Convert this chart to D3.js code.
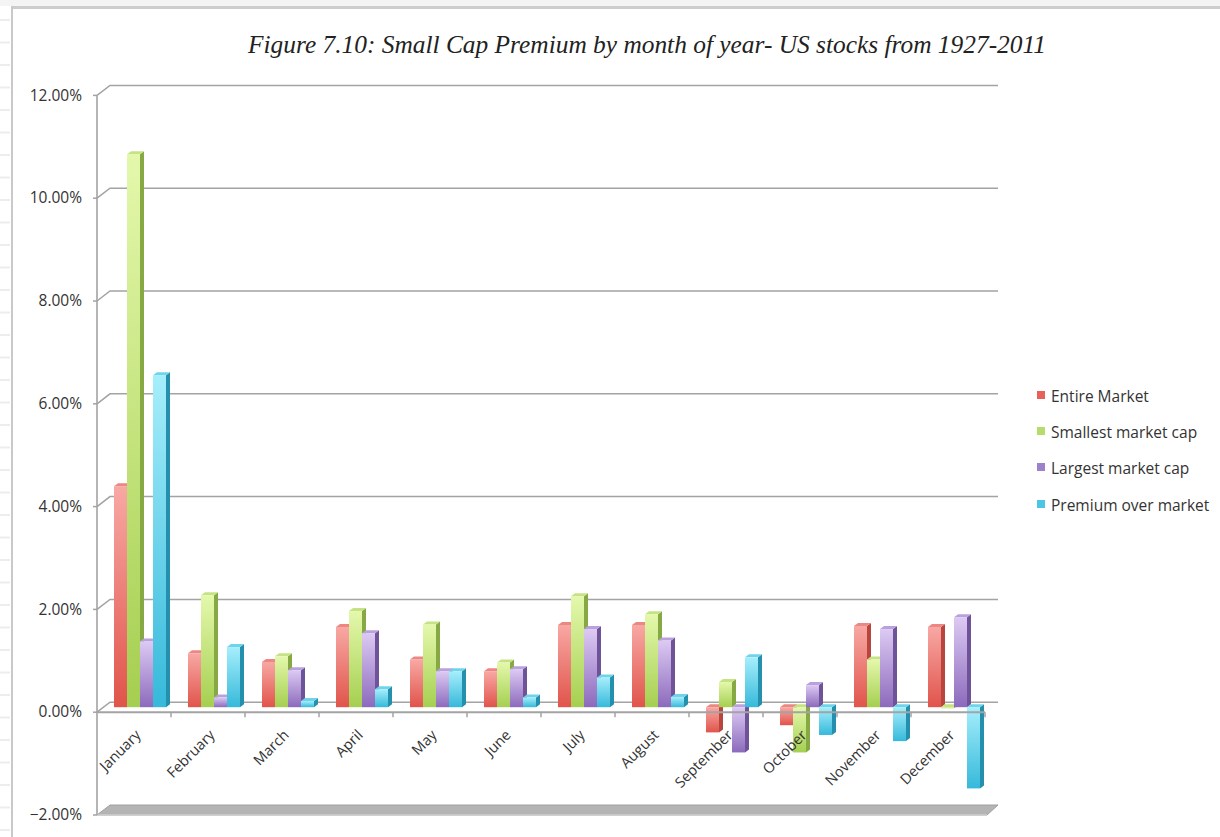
<!DOCTYPE html>
<html>
<head>
<meta charset="utf-8">
<script src="https://cdn.jsdelivr.net/npm/d3@7"></script>
<style>
  html, body { margin: 0; padding: 0; background: #fff; }
  svg { display: block; }
</style>
</head>
<body>
<svg id="chart" width="1220" height="837"></svg>
<script>
// Monthly returns, US stocks 1927-2011 (percent)
const months = ["January", "February", "March", "April", "May", "June",
                "July", "August", "September", "October", "November", "December"];
const seriesNames = ["Entire Market", "Smallest market cap", "Largest market cap", "Premium over market"];
const entireMarket = [4.30, 1.05, 0.88, 1.56, 0.93, 0.70, 1.60, 1.60, -0.49, -0.35, 1.58, 1.56];
const smallestCap  = [10.76, 2.18, 0.99, 1.87, 1.61, 0.87, 2.16, 1.81, 0.49, -0.88, 0.93, -0.02];
const largestCap   = [1.28, 0.19, 0.72, 1.44, 0.70, 0.74, 1.52, 1.30, -0.88, 0.43, 1.52, 1.75];
const premium      = [6.46, 1.17, 0.12, 0.35, 0.70, 0.19, 0.58, 0.20, 0.97, -0.54, -0.66, -1.58];
const yTicks = [-2, 0, 2, 4, 6, 8, 10, 12];
const titleText = "Figure 7.10: Small Cap Premium by month of year- US stocks from 1927-2011";

const seriesValues = [entireMarket, smallestCap, largestCap, premium];

// face colours: [front top, front bottom, side, cap, legend]
const palette = [
  ["#f8a8a4", "#e0544b", "#b9453f", "#ec8781", "#e8605a"],
  ["#e4f8ac", "#a5cf50", "#86a944", "#c6e384", "#b6dc6c"],
  ["#dccaf3", "#8c6abc", "#6f5398", "#b9a1de", "#9c82cc"],
  ["#a6eefc", "#36b9da", "#2590ad", "#6fd3ea", "#4cc6e4"]
];

const svg = d3.select("#chart");

// ---- page frame ----
svg.append("rect").attr("x", 0).attr("y", 0).attr("width", 1220).attr("height", 6).attr("fill", "#f4f4f4");
const stripes = d3.range(20, 837, 22.5);
svg.append("g").selectAll("line").data(stripes).join("line")
  .attr("x1", 0).attr("x2", 10).attr("y1", d => d).attr("y2", d => d)
  .attr("stroke", "#ededed").attr("stroke-width", 2);
svg.append("line").attr("x1", 11).attr("x2", 1220).attr("y1", 7.5).attr("y2", 7.5)
  .attr("stroke", "#cdcdcd").attr("stroke-width", 3);
svg.append("line").attr("x1", 12).attr("x2", 12).attr("y1", 6).attr("y2", 837)
  .attr("stroke", "#c9c9c9").attr("stroke-width", 2);

// ---- title ----
svg.append("text")
  .attr("x", 647).attr("y", 53)
  .attr("text-anchor", "middle")
  .attr("font-family", "'Liberation Serif', 'Times New Roman', serif")
  .attr("font-style", "italic")
  .attr("font-size", 25.4)
  .attr("fill", "#222")
  .text(titleText);

// ---- scales ----
const plotLeft = 97, plotRight = 985;
const y = d3.scaleLinear().domain([-2, 12]).range([815, 95.4]);
const x0 = d3.scaleBand().domain(months).range([plotLeft, plotRight]).paddingInner(0).paddingOuter(0);
const x1 = d3.scaleBand().domain(seriesNames).range([0, x0.bandwidth()]).paddingInner(0).paddingOuter(0.846);

// depth offsets: back wall, and bars sitting mid-depth
const backDx = 13, backDy = -10;
const midDx = 6, midDy = -5;
const sideDx = 4, sideDy = -3;

const axisColor = "#a3a3a3";
const labelFont = "'Open Sans', sans-serif";

// ---- floor slab at the axis minimum ----
const yMin = y(-2);
svg.append("path")
  .attr("d", `M${plotLeft},${yMin} L${plotLeft + backDx},${yMin + backDy} L${plotRight + backDx},${yMin + backDy} L${plotRight + 2},${yMin} Z`)
  .attr("fill", "#b4b4b4").attr("stroke", "#a0a0a0").attr("stroke-width", 1);
svg.append("line")
  .attr("x1", plotLeft).attr("x2", plotRight + 2).attr("y1", yMin).attr("y2", yMin)
  .attr("stroke", "#d0d0d0").attr("stroke-width", 1.5);

// ---- back-wall gridlines with diagonal connectors ----
const grid = svg.append("g");
yTicks.filter(t => t > -2).forEach(t => {
  const yy = y(t);
  grid.append("path")
    .attr("d", `M${plotLeft},${yy} L${plotLeft + backDx},${yy + backDy} L${plotRight + backDx},${yy + backDy}`)
    .attr("fill", "none").attr("stroke", axisColor).attr("stroke-width", 1.5);
});

// ---- vertical axis (front) ----
svg.append("line")
  .attr("x1", plotLeft).attr("x2", plotLeft).attr("y1", y(12)).attr("y2", y(-2))
  .attr("stroke", axisColor).attr("stroke-width", 1.6);
const yAxis = svg.append("g");
yTicks.forEach(t => {
  yAxis.append("line")
    .attr("x1", plotLeft - 4).attr("x2", plotLeft).attr("y1", y(t)).attr("y2", y(t))
    .attr("stroke", axisColor).attr("stroke-width", 1.5);
  yAxis.append("text")
    .attr("x", 82).attr("y", y(t) + 1)
    .attr("text-anchor", "end").attr("dominant-baseline", "middle")
    .attr("font-family", labelFont).attr("font-size", 15.5)
    .attr("fill", "#333")
    .text(d3.format(".2f")(t) + "%");
});

// ---- gradients ----
const defs = svg.append("defs");
palette.forEach((p, i) => {
  const g = defs.append("linearGradient").attr("id", "grad" + i)
    .attr("x1", 0).attr("y1", 0).attr("x2", 0).attr("y2", 1);
  g.append("stop").attr("offset", "0%").attr("stop-color", p[0]);
  g.append("stop").attr("offset", "100%").attr("stop-color", p[1]);
});

// ---- bars ----
const bars = [];
months.forEach((m, mi) => {
  seriesNames.forEach((s, si) => {
    bars.push({ month: m, series: s, si, value: seriesValues[si][mi] });
  });
});

const w = x1.bandwidth();
const barG = svg.append("g");
bars.forEach(d => {
  const bx = x0(d.month) + x1(d.series) + midDx;
  const yv = y(d.value) + midDy;
  const yb = y(0) + midDy;
  const top = Math.min(yv, yb), bot = Math.max(yv, yb);
  const p = palette[d.si];
  const g = barG.append("g");
  // side face
  g.append("path")
    .attr("d", `M${bx + w},${top} L${bx + w + sideDx},${top + sideDy} L${bx + w + sideDx},${bot + sideDy} L${bx + w},${bot} Z`)
    .attr("fill", p[2]);
  // top cap
  g.append("path")
    .attr("d", `M${bx},${top} L${bx + sideDx},${top + sideDy} L${bx + w + sideDx},${top + sideDy} L${bx + w},${top} Z`)
    .attr("fill", p[3]);
  // front face
  g.append("rect")
    .attr("x", bx).attr("y", top).attr("width", w).attr("height", Math.max(bot - top, 0.01))
    .attr("fill", `url(#grad${d.si})`);
});

// ---- horizontal axis at zero (front) ----
const y0 = y(0);
svg.append("line")
  .attr("x1", plotLeft).attr("x2", plotRight).attr("y1", y0).attr("y2", y0)
  .attr("stroke", axisColor).attr("stroke-width", 2);
const bounds = months.map(m => x0(m)).slice(1).concat([plotRight]);
svg.append("g").selectAll("line").data(bounds).join("line")
  .attr("x1", d => d).attr("x2", d => d).attr("y1", y0).attr("y2", y0 + 5)
  .attr("stroke", axisColor).attr("stroke-width", 1.5);

// category labels, rotated
svg.append("g").selectAll("text").data(months).join("text")
  .attr("transform", m => `translate(${x0(m) + x0.bandwidth() / 2 + 5},${y0 + 21}) rotate(-45)`)
  .attr("text-anchor", "end").attr("dominant-baseline", "middle")
  .attr("font-family", labelFont).attr("font-size", 14.5)
  .attr("fill", "#333")
  .text(m => m);

// ---- legend ----
const legend = svg.append("g");
const legendY = [398, 434, 470, 507];
seriesNames.forEach((s, i) => {
  legend.append("rect")
    .attr("x", 1037).attr("y", legendY[i] - 7).attr("width", 8).attr("height", 8)
    .attr("fill", palette[i][4]);
  legend.append("text")
    .attr("x", 1051).attr("y", legendY[i])
    .attr("dominant-baseline", "middle")
    .attr("font-family", labelFont).attr("font-size", 15.5)
    .attr("fill", "#333")
    .text(s);
});
</script>
</body>
</html>
